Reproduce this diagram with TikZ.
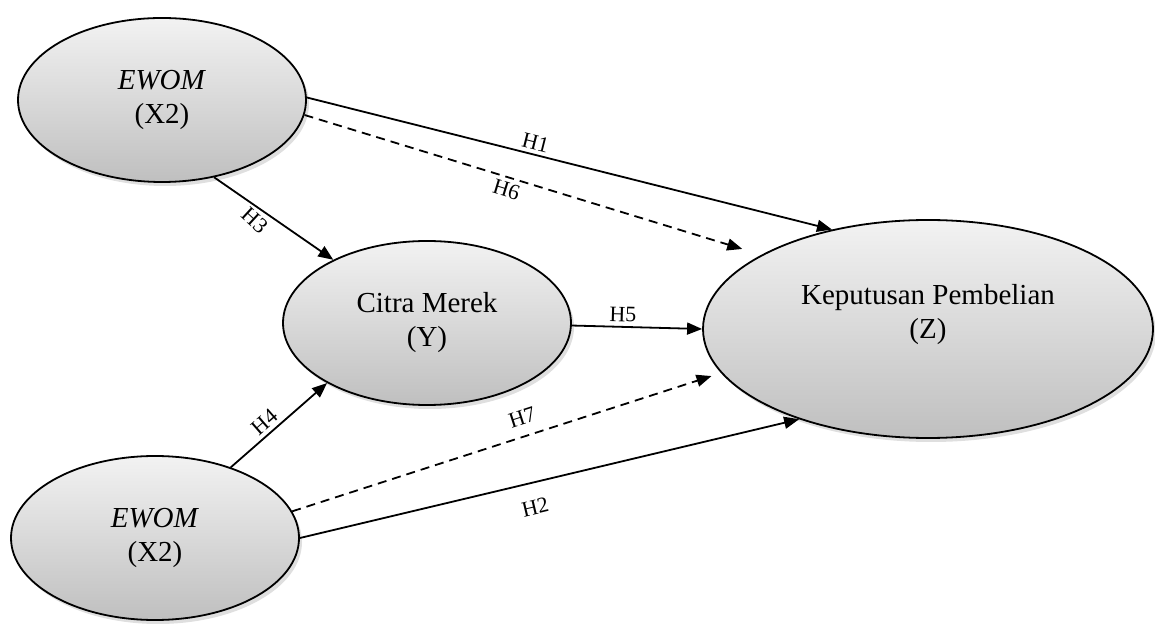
\documentclass[tikz,border=0pt]{standalone}
\usepackage{fontspec}
\setmainfont{Liberation Serif}
\usetikzlibrary{arrows.meta,shapes.geometric,shadows}
\tikzset{
  latent/.style={ellipse,draw,line width=0.9pt,top color=gray!10,bottom color=gray!50,
    minimum width=144pt,minimum height=82pt,inner sep=0pt,align=center,
    drop shadow={opacity=0.25,shadow xshift=1.5pt,shadow yshift=-2pt}},
  direct/.style={->,line width=0.9pt},
  indirect/.style={direct,dash pattern=on 4.5pt off 3pt},
  hyp/.style={font=\fontsize{11}{13}\selectfont,sloped,inner sep=2pt}
}

\begin{document}
\begin{tikzpicture}[x=0.5pt,y=-0.5pt,>={Triangle[length=7.5pt,width=6pt]},font=\fontsize{14.5}{17}\selectfont]
  \useasboundingbox (0,0) rectangle (1155,624);
  \node[latent] (ewoma) at (162,100) {\textit{EWOM}\\(X2)};
  \node[latent] (cm) at (427,323) {Citra Merek\\(Y)};
  \node[latent] (ewomb) at (155,538) {\textit{EWOM}\\(X2)};
  \node[latent,minimum width=225pt,minimum height=109pt,
    label={[align=center,yshift=7pt]center:Keputusan Pembelian\\(Z)}] (kp) at (928,329) {};
  \draw[direct] (ewoma.1) -- node[hyp,above,pos=.43] {H1} (kp.134);
  \draw[indirect,shorten >=10pt] (ewoma.-6) -- node[hyp,below,pos=.45] {H6} (kp.156);
  \draw[direct] (ewoma.-56) -- node[hyp,below,pos=.41,rotate=-8] {H3} (cm.146);
  \draw[direct] (cm.-1) -- node[hyp,above,pos=.39] {H5} (kp.180);
  \draw[direct] (ewomb.43) -- node[hyp,above,pos=.43] {H4} (cm.211);
  \draw[indirect,shorten >=5pt] (ewomb.11) -- node[hyp,above=3.5pt,pos=.55] {H7} (kp.192);
  \draw[direct] (ewomb.0) -- node[hyp,below=6pt,pos=.46] {H2} (kp.215);
\end{tikzpicture}
\end{document}
